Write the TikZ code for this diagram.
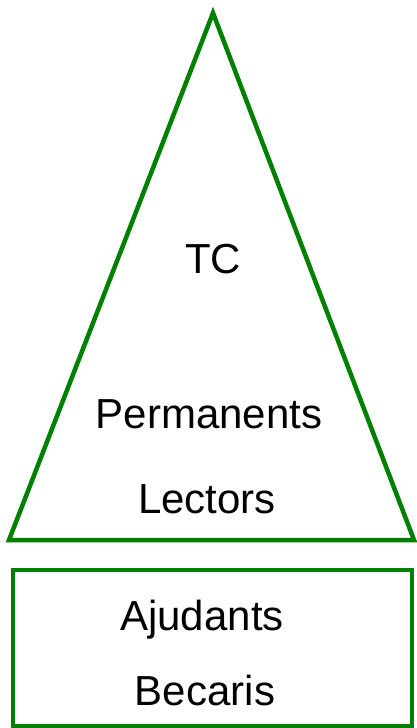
\documentclass[tikz,border=0pt]{standalone}
\usepackage{fontspec}
\setmainfont{Liberation Sans}
\definecolor{frame}{RGB}{0,128,0}
\tikzset{
  outline/.style= {draw=frame, line width=4.5pt, line join=miter},
  caption/.style= {anchor=base, inner sep=0, font=\fontsize{42}{50}\selectfont},
}

\begin{document}
\begin{tikzpicture}[x=1pt, y=-1pt]
  \useasboundingbox (0,0) rectangle (416,728) ;
  \coordinate (top) at (213,13) ;
  \coordinate (bl) at (9,540) ;
  \coordinate (br) at (414,540) ;
  \draw [outline] (top) -- (bl) -- (br) -- cycle ;
  \draw [outline] (13,570) rectangle (412,726) ;

  \node [caption] (tc) at (213,273) {TC} ;
  \node [caption] (perm) at (209,428) {Permanents} ;
  \node [caption] (lect) at (207,513) {Lectors} ;
  \node [caption] (ajud) at (202,630) {Ajudants} ;
  \node [caption] (beca) at (205,705) {Becaris} ;
\end{tikzpicture}
\end{document}
